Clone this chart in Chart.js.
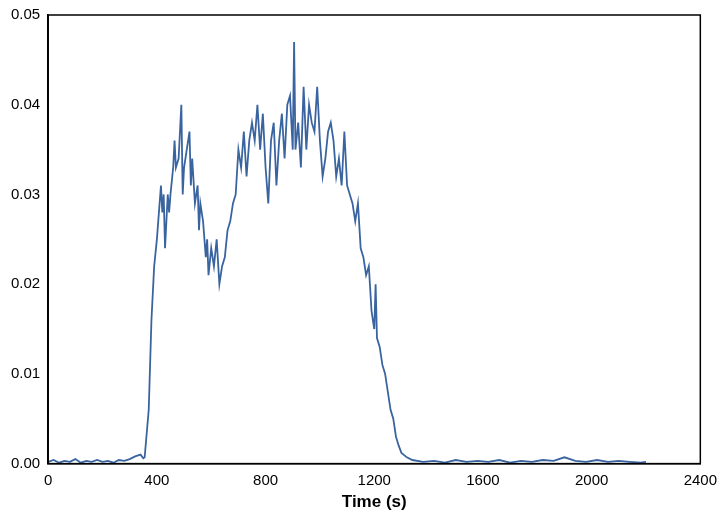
<!DOCTYPE html>
<html><head><meta charset="utf-8">
<script src="https://cdn.jsdelivr.net/npm/chart.js@4"></script>
<style>body{margin:0;background:#fff}#wrap{width:720px;height:515px}</style>
</head><body><div id="wrap"><canvas id="c"></canvas></div>
<script>
// time (s) and signal values
const times = [0,20,40,60,80,100,120,140,160,180,200,220,240,260,280,300,320,340,350,355,
 370,380,390,400,410,415,420,425,430,440,445,450,460,465,470,480,490,495,500,510,520,525,530,540,550,555,560,570,580,585,590,600,610,620,630,640,650,660,670,680,690,
 700,710,720,730,740,750,760,770,780,790,800,810,820,830,840,850,860,870,880,890,900,905,910,920,930,940,950,960,970,980,990,
 1000,1010,1020,1030,1040,1050,1060,1070,1080,1090,1100,1110,1120,1130,1140,1150,1160,1170,1180,1190,1200,1205,1210,1220,1230,1240,1250,1260,1270,1280,1290,1300,1320,
 1340,1380,1420,1460,1500,1540,1580,1620,1660,1700,1740,1780,1820,1860,1900,1940,1980,2020,2060,2100,2140,2180,2200];
const values = [0.0002,0.0004,0.0001,0.0003,0.0002,0.0005,0.0001,0.0003,0.0002,0.0004,0.0002,0.0003,0.0001,0.0004,0.0003,0.0005,0.0008,0.0010,0.0006,0.0007,
 0.006,0.016,0.022,0.025,0.029,0.031,0.028,0.030,0.024,0.030,0.028,0.030,0.033,0.036,0.033,0.034,0.040,0.030,0.033,0.035,0.037,0.031,0.034,0.029,0.031,0.026,0.029,0.027,0.023,0.025,0.021,0.024,0.022,0.025,0.020,0.022,0.023,0.026,0.027,0.029,0.030,
 0.035,0.033,0.037,0.032,0.036,0.038,0.036,0.040,0.035,0.039,0.033,0.029,0.036,0.038,0.031,0.036,0.039,0.034,0.040,0.041,0.035,0.047,0.035,0.038,0.033,0.042,0.035,0.040,0.038,0.037,0.042,
 0.036,0.032,0.034,0.037,0.038,0.036,0.032,0.034,0.031,0.037,0.031,0.030,0.029,0.027,0.029,0.024,0.023,0.021,0.022,0.017,0.015,0.020,0.014,0.013,0.011,0.010,0.008,0.006,0.005,0.003,0.002,0.0012,0.0007,
 0.0004,0.0002,0.0003,0.0001,0.0004,0.0002,0.0003,0.0002,0.0004,0.0001,0.0003,0.0002,0.0004,0.0003,0.0007,0.0003,0.0002,0.0004,0.0002,0.0003,0.0002,0.0001,0.0002];
const xTicks = [0,400,800,1200,1600,2000,2400];

new Chart(document.getElementById('c'), {
  type: 'line',
  data: { datasets: [{
    data: times.map((t, i) => ({ x: t, y: values[i] })),
    borderColor: '#3a64a0', borderWidth: 1.8, pointRadius: 0, tension: 0, fill: false
  }]},
  options: {
    responsive: true, maintainAspectRatio: false, animation: false,
    layout: { padding: { left: 8, right: 0, top: 15, bottom: 2 } },
    plugins: { legend: { display: false }, tooltip: { enabled: false } },
    scales: {
      x: {
        type: 'linear', min: 0, max: 2400,
        afterBuildTicks: ax => { ax.ticks = xTicks.map(v => ({ value: v })); },
        ticks: { color: '#000', font: { family: 'Liberation Sans', size: 15 }, maxRotation: 0, callback: v => String(v) },
        grid: { display: false, drawTicks: true, tickLength: 5 },
        border: { color: '#000', width: 1.5 },
        title: { display: true, text: 'Time (s)', color: '#000', font: { family: 'Liberation Sans', size: 17, weight: 'bold' }, padding: 0 }
      },
      y: {
        min: 0, max: 0.05,
        ticks: { stepSize: 0.01, color: '#000', font: { family: 'Liberation Sans', size: 15 }, callback: v => v.toFixed(2) },
        grid: { display: false, tickLength: 5 },
        border: { color: '#000', width: 1.5 }
      }
    }
  },
  plugins: [{
    id: 'box',
    afterDraw(chart) {
      const { ctx, chartArea: a } = chart;
      ctx.save(); ctx.strokeStyle = '#000'; ctx.lineWidth = 1.5;
      ctx.strokeRect(a.left, a.top, a.right - a.left, a.bottom - a.top);
      ctx.restore();
    }
  }]
});
</script></body></html>
